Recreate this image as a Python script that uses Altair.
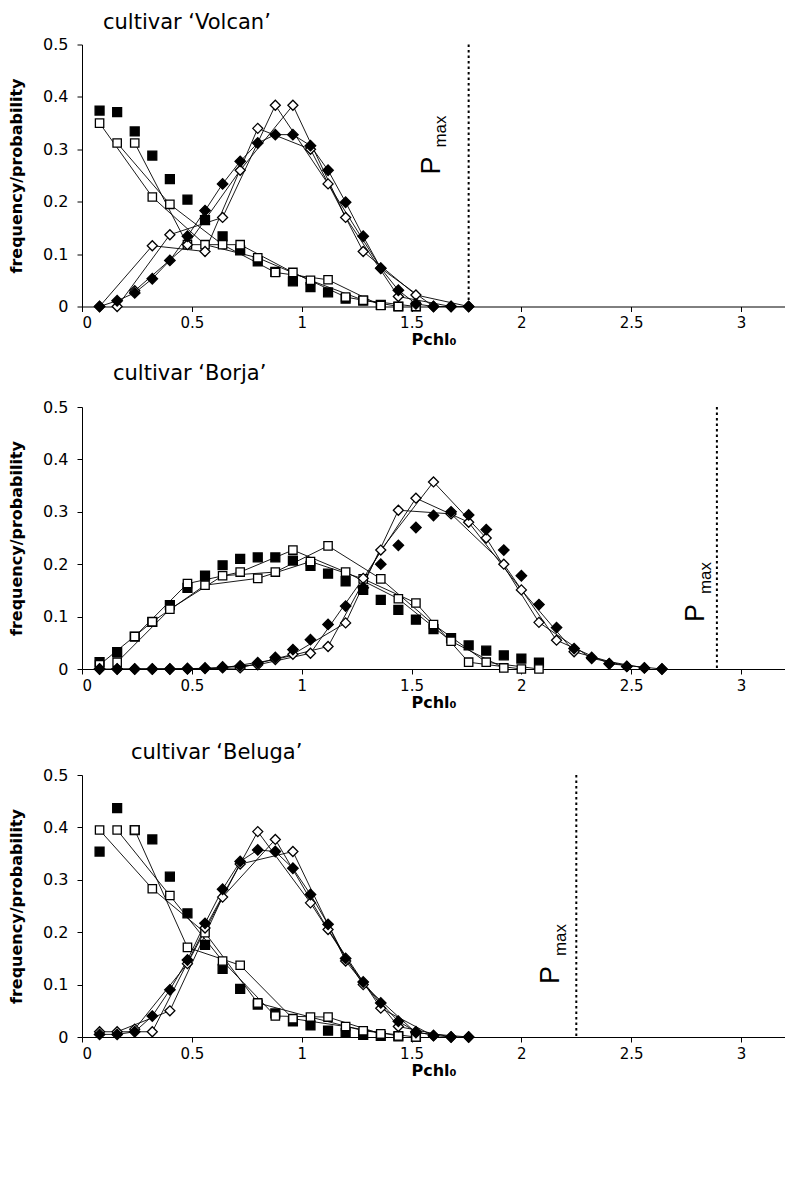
import altair as alt
import pandas as pd

FONT = "DejaVu Sans"
PFONT = "Liberation Sans"

# bin centres of Pchl0
X = [0.08, 0.16, 0.24, 0.32, 0.40, 0.48, 0.56, 0.64, 0.72, 0.80, 0.88,
     0.96, 1.04, 1.12, 1.20, 1.28, 1.36, 1.44, 1.52, 1.60, 1.68, 1.76,
     1.84, 1.92, 2.00, 2.08, 2.16, 2.24, 2.32, 2.40, 2.48, 2.56, 2.64]

X_TICKS = [0, 0.5, 1, 1.5, 2, 2.5, 3]
Y_TICKS = [0, 0.1, 0.2, 0.3, 0.4, 0.5]

# ---- cultivar 'Volcan'
volcan_fsq = [0.374, 0.371, 0.334, 0.288, 0.243, 0.204, 0.165, 0.134, 0.107, 0.086,
              0.066, 0.048, 0.037, 0.027, 0.015, 0.011, 0.003, 0.0, 0.0]
volcan_osq = [0.350, 0.312, 0.312, 0.209, 0.195, 0.118, 0.118, 0.118, 0.118, 0.093,
              0.065, 0.065, 0.050, 0.051, 0.018, 0.012, 0.002, 0.0, 0.0]
volcan_fdi = [0.0, 0.011, 0.026, 0.053, 0.088, 0.134, 0.183, 0.234, 0.277, 0.312,
              0.328, 0.328, 0.307, 0.260, 0.199, 0.134, 0.073, 0.031, 0.005, 0.0,
              0.0, 0.0]
volcan_odi = [0.0, 0.0, 0.030, 0.116, 0.137, 0.118, 0.105, 0.170, 0.260, 0.340,
              0.384, 0.384, 0.300, 0.234, 0.170, 0.105, 0.073, 0.019, 0.022, 0.0,
              0.0, 0.0]
volcan_pmax = 1.76

# ---- cultivar 'Borja'
borja_fsq = [0.013, 0.032, 0.062, 0.090, 0.122, 0.155, 0.178, 0.198, 0.210, 0.213,
             0.213, 0.207, 0.197, 0.182, 0.167, 0.151, 0.132, 0.113, 0.094, 0.076,
             0.059, 0.045, 0.035, 0.026, 0.020, 0.012]
borja_osq = [0.008, 0.013, 0.062, 0.090, 0.114, 0.163, 0.160, 0.178, 0.185, 0.173,
             0.185, 0.227, 0.205, 0.235, 0.185, 0.172, 0.172, 0.134, 0.126, 0.085,
             0.053, 0.013, 0.013, 0.002, 0.0, 0.0]
borja_fdi = [0.0, 0.0, 0.0, 0.0, 0.0, 0.001, 0.002, 0.004, 0.006, 0.012, 0.022,
             0.037, 0.056, 0.085, 0.120, 0.155, 0.200, 0.236, 0.270, 0.293, 0.300,
             0.294, 0.266, 0.227, 0.178, 0.123, 0.079, 0.039, 0.022, 0.010, 0.005,
             0.002, 0.0]
borja_odi = [0.0, 0.0, 0.0, 0.0, 0.0, 0.0, 0.001, 0.002, 0.002, 0.008, 0.018,
             0.028, 0.030, 0.043, 0.088, 0.173, 0.227, 0.303, 0.326, 0.357, 0.296,
             0.280, 0.250, 0.200, 0.151, 0.089, 0.055, 0.033, 0.020, 0.010, 0.005,
             0.002, 0.0]
borja_pmax = 2.89

# ---- cultivar 'Beluga'
beluga_fsq = [0.354, 0.437, 0.395, 0.377, 0.306, 0.236, 0.176, 0.130, 0.092, 0.062,
              0.045, 0.030, 0.022, 0.012, 0.008, 0.004, 0.002, 0.001, 0.0]
beluga_osq = [0.395, 0.395, 0.395, 0.283, 0.270, 0.171, 0.199, 0.145, 0.137, 0.065,
              0.040, 0.035, 0.038, 0.038, 0.020, 0.012, 0.006, 0.002, 0.0]
beluga_fdi = [0.005, 0.005, 0.010, 0.040, 0.090, 0.147, 0.217, 0.282, 0.335, 0.357,
              0.354, 0.322, 0.272, 0.215, 0.150, 0.105, 0.065, 0.030, 0.010, 0.003,
              0.0, 0.0]
beluga_odi = [0.010, 0.010, 0.015, 0.010, 0.050, 0.140, 0.208, 0.267, 0.330, 0.392,
              0.377, 0.354, 0.256, 0.205, 0.145, 0.100, 0.055, 0.020, 0.008, 0.002,
              0.0, 0.0]
beluga_pmax = 2.25

W, H = 703, 262


def panel(title, fsq, osq, fdi, odi, pmax, connect_fdi, title_dx, title_offset,
          p_y, m_y, p_dx, m_dx):
    pts = []
    for s, vals in [("fsq", fsq), ("osq", osq), ("odi", odi), ("fdi", fdi)]:
        for k, v in enumerate(vals):
            pts.append({"series": s, "x": X[k], "y": v})
    pts = pd.DataFrame(pts)

    lines = []
    for s, vals in [("osq", osq), ("odi", odi)]:
        for off in range(3):
            for i, k in enumerate(range(off, len(vals), 3)):
                lines.append({"line": f"{s}{off}", "order": i, "x": X[k], "y": vals[k]})
    if connect_fdi:
        for k, v in enumerate(fdi):
            lines.append({"line": "fdi", "order": k, "x": X[k], "y": v})
    lines = pd.DataFrame(lines)

    xs = alt.X("x:Q", scale=alt.Scale(domain=[0, 3.2], nice=False),
               axis=alt.Axis(values=X_TICKS, format="~g", title="Pchl\u2080",
                             labelPadding=4, titlePadding=1, labelFontSize=15))
    ys = alt.Y("y:Q", scale=alt.Scale(domain=[0, 0.5], nice=False),
               axis=alt.Axis(values=Y_TICKS, format="~g", title="frequency/probability",
                             labelPadding=9, titlePadding=18, labelFontSize=16))

    line_layer = alt.Chart(lines).mark_line(color="black", strokeWidth=0.9).encode(
        x=xs, y=ys, detail="line:N", order="order:Q")

    def pt(series, shape, fill, size):
        return alt.Chart(pts).transform_filter(alt.datum.series == series).mark_point(
            shape=shape, filled=True, fill=fill, stroke="black", strokeWidth=1.3,
            size=size, opacity=1).encode(x=xs, y=ys)

    pm = pd.DataFrame({"pmax": [pmax], "top": [0.5], "bottom": [0.0]})
    rule = alt.Chart(pm).mark_rule(color="black", strokeWidth=2, strokeDash=[2.5, 3]).encode(
        x="pmax:Q", y="top:Q", y2="bottom:Q")
    ptext = alt.Chart(pm).mark_text(text="P", angle=270, fontSize=27, font=PFONT,
                                    align="center", baseline="middle", xOffset=p_dx,
                                    color="black").encode(x="pmax:Q", y=alt.value(p_y))
    mtext = alt.Chart(pm).mark_text(text="max", angle=270, fontSize=17, font=PFONT,
                                    align="center", baseline="middle", xOffset=m_dx,
                                    color="black").encode(x="pmax:Q", y=alt.value(m_y))

    return alt.layer(
        line_layer,
        pt("fsq", "square", "black", 80),
        pt("osq", "square", "white", 70),
        pt("odi", "diamond", "white", 100),
        pt("fdi", "diamond", "black", 110),
        rule, ptext, mtext,
    ).properties(
        width=W, height=H,
        title=alt.TitleParams(text=title, anchor="start", frame="group", dx=title_dx,
                              offset=title_offset, fontSize=21, font=FONT,
                              fontWeight="normal", color="black"),
    )


p1 = panel("cultivar \u2018Volcan\u2019", volcan_fsq, volcan_osq, volcan_fdi, volcan_odi,
           volcan_pmax, True, 21, 3.5, 121, 87, -37, -28)
p2 = panel("cultivar \u2018Borja\u2019", borja_fsq, borja_osq, borja_fdi, borja_odi,
           borja_pmax, False, 31, 15, 206, 171, -21, -11)
p3 = panel("cultivar \u2018Beluga\u2019", beluga_fsq, beluga_osq, beluga_fdi, beluga_odi,
           beluga_pmax, True, 49, 4, 200, 165, -25, -15)

chart = alt.vconcat(alt.vconcat(p1, p2, spacing=15.5), p3, spacing=31.5).properties(
    padding={"left": 0, "top": 3.5, "right": 0, "bottom": 5}
).configure_view(stroke=None).configure_axis(
    domainColor="black", tickColor="black", labelColor="black", titleColor="black",
    labelFont=FONT, titleFont=FONT, titleFontSize=16,
    titleFontWeight="bold", tickSize=5, grid=False,
)

chart.save("out.html", embed_options={"renderer": "svg", "actions": False})
